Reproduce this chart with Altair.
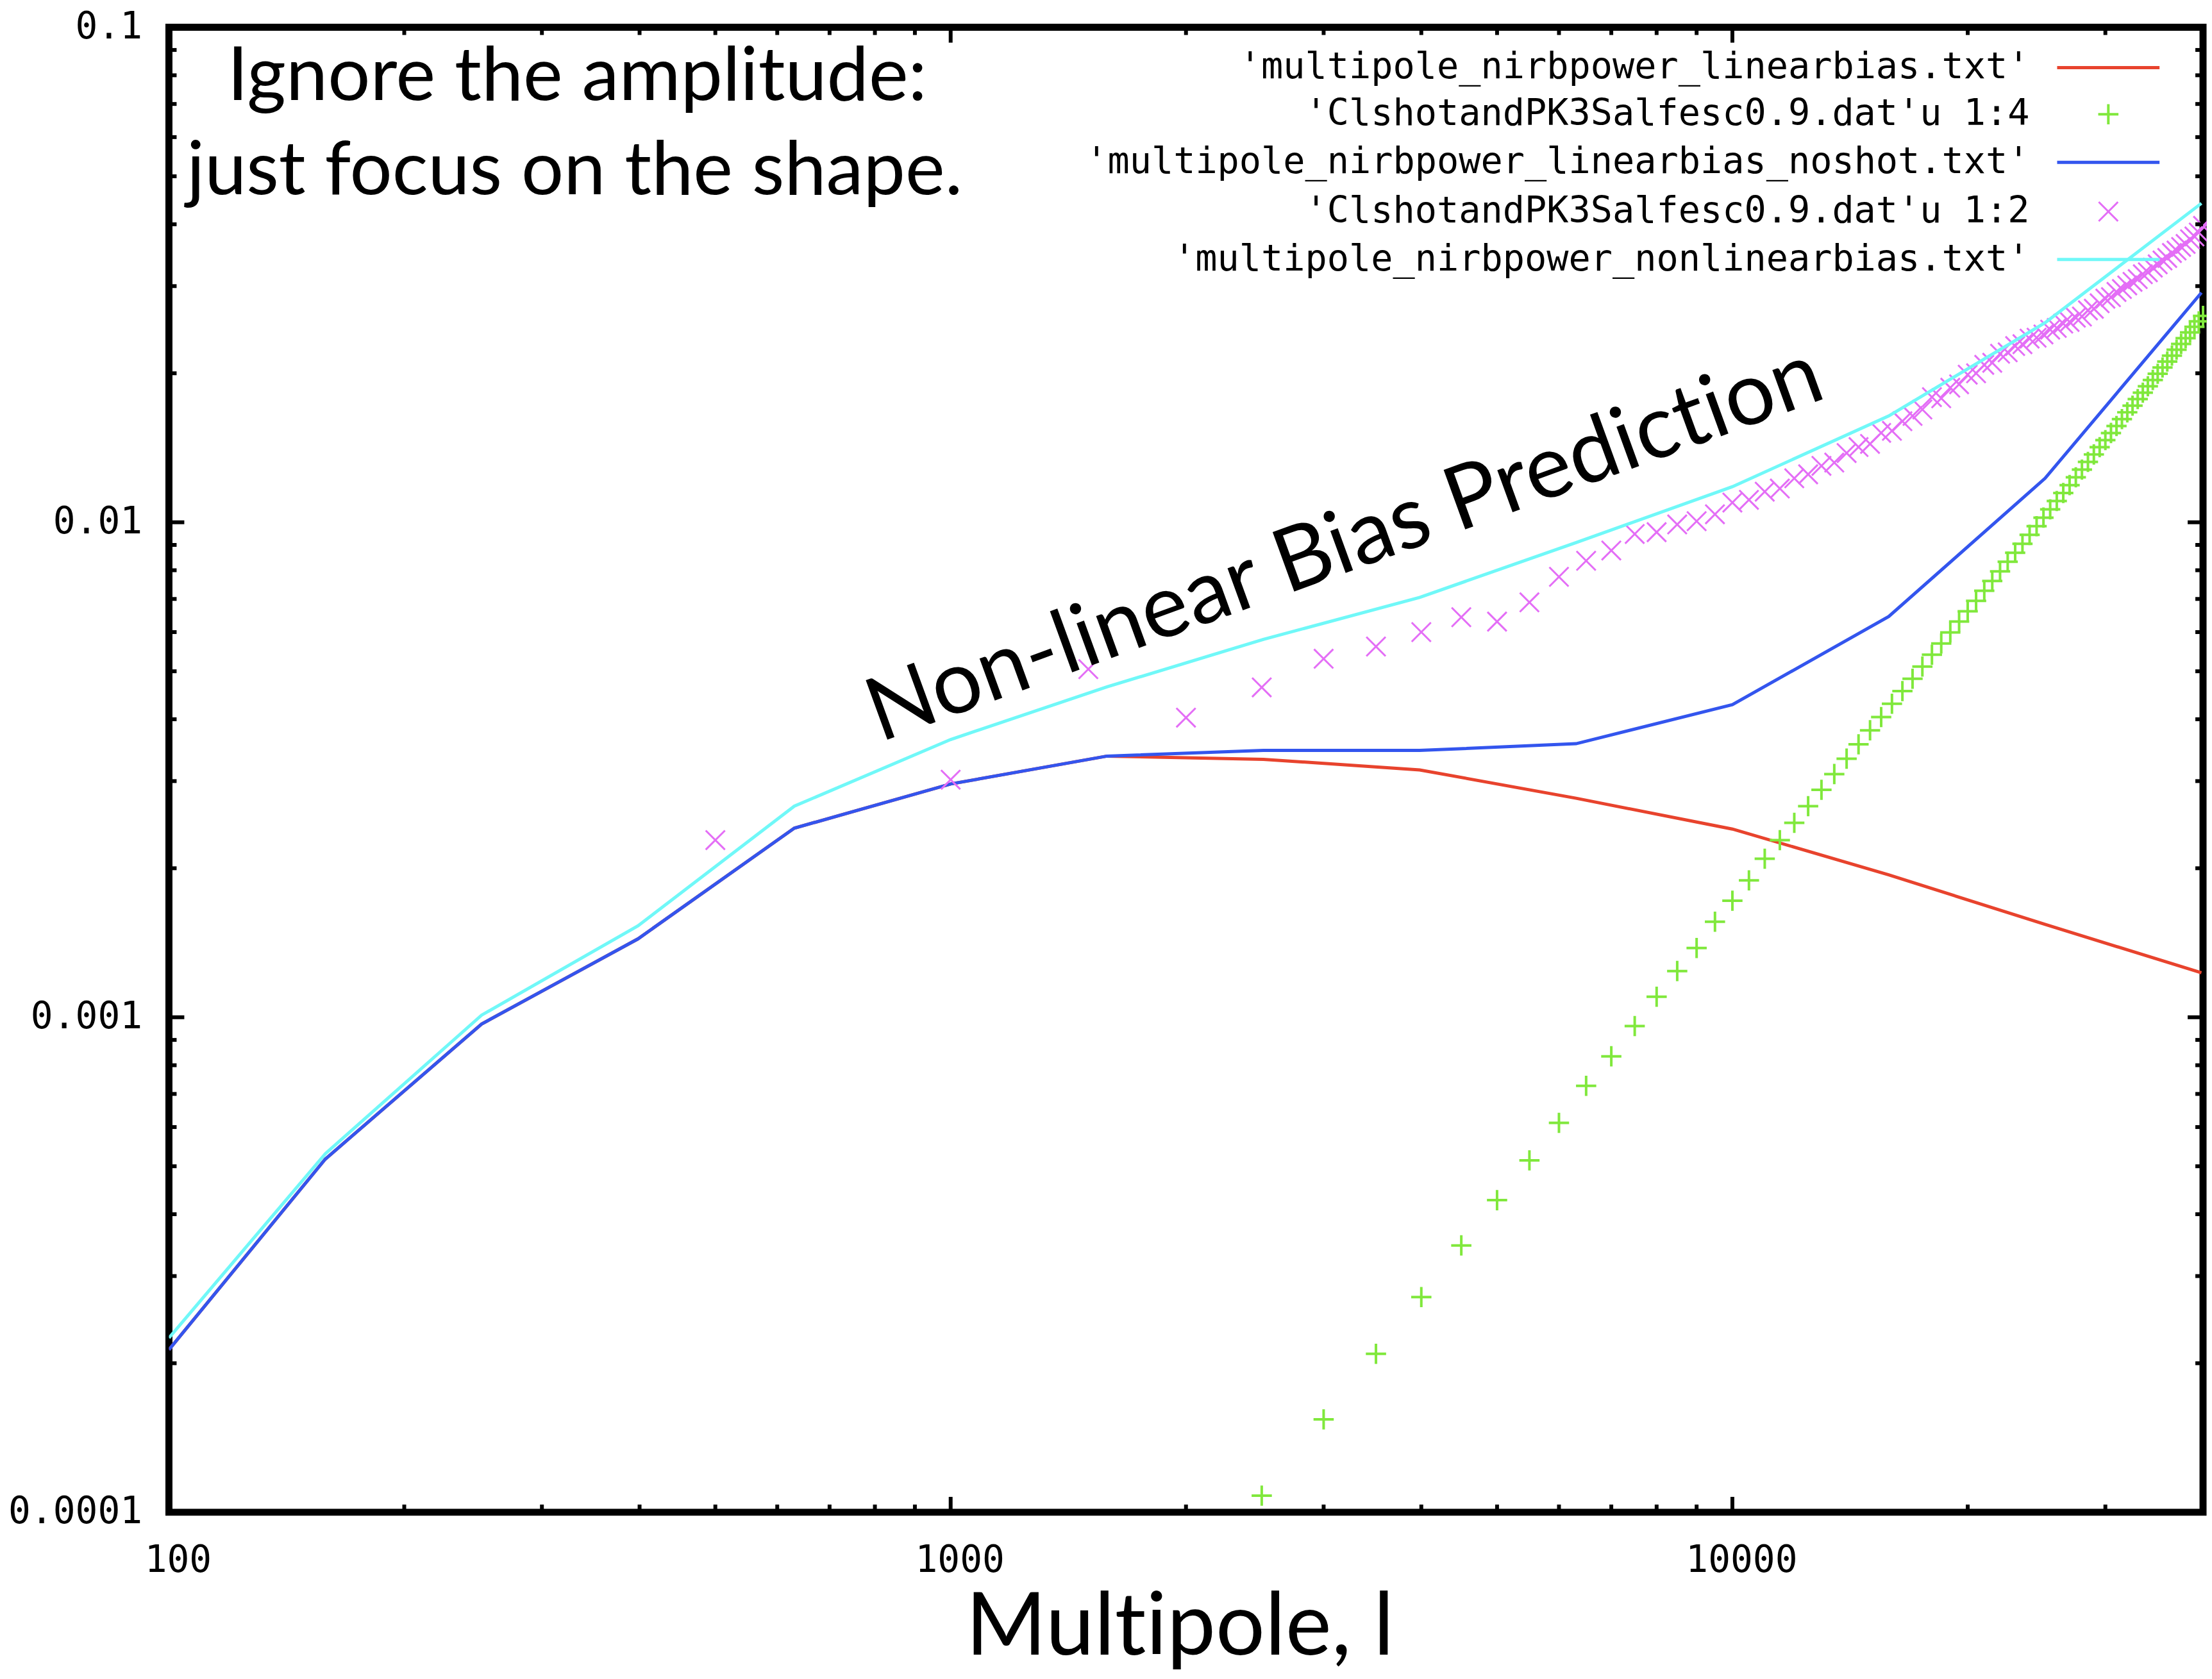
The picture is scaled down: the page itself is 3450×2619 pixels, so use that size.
import altair as alt
import pandas as pd

# ---------------- data ----------------
l_knots = [100, 158.5, 251.2, 398.1, 631.0, 1000, 1584.9, 2511.9, 3981.1,
           6309.6, 10000, 15848.9, 25118.9, 39810.7]
linear_bias = [0.000213, 0.000517, 0.000969, 0.00144, 0.00241, 0.00296, 0.00337,
               0.00332, 0.00316, 0.00277, 0.00240, 0.00194, 0.00154, 0.00123]
linear_bias_noshot = [0.000213, 0.000517, 0.000969, 0.00144, 0.00241, 0.00296, 0.00337,
                      0.00346, 0.00346, 0.00357, 0.00428, 0.00645, 0.01227, 0.0291]
nonlinear_bias = [0.000225, 0.00053, 0.00101, 0.00153, 0.00267, 0.00364, 0.00465,
                  0.00580, 0.00705, 0.0091, 0.0118, 0.0164, 0.0253, 0.0441]

l_cl12 = list(range(500, 40001, 500))
cl_col2 = [0.00228, 0.00302, 0.00505, 0.00403, 0.00464, 0.00530, 0.00561, 0.00600,
           0.00643, 0.00630, 0.00689, 0.00776, 0.00836, 0.00877, 0.00947, 0.00955,
           0.00990, 0.01005, 0.01038, 0.01096, 0.01110, 0.01153, 0.01170, 0.01227,
           0.01250, 0.01300, 0.01320, 0.01380, 0.01419, 0.01440, 0.01516, 0.01530,
           0.01600, 0.01640, 0.01690, 0.01790, 0.01780, 0.01870, 0.01900, 0.01987,
           0.02000, 0.02080, 0.02100, 0.02190, 0.02205, 0.02270, 0.02290, 0.02350,
           0.02360, 0.02396, 0.02450, 0.02470, 0.02520, 0.02540, 0.02590, 0.02604,
           0.02680, 0.02700, 0.02770, 0.02830, 0.02850, 0.02920, 0.02960, 0.03010,
           0.03060, 0.03100, 0.03170, 0.03200, 0.03270, 0.03320, 0.03380, 0.03420,
           0.03500, 0.03540, 0.03600, 0.03650, 0.03730, 0.03780, 0.03850, 0.03970]

l_cl14 = list(range(2500, 40001, 500))
cl_col4 = [0.000108, 0.000154, 0.000209, 0.000272, 0.000346, 0.000427, 0.000514,
           0.000612, 0.000727, 0.000834, 0.000960, 0.00110, 0.00124, 0.00138,
           0.00156, 0.00172, 0.00189, 0.00209, 0.00228, 0.00247, 0.00267, 0.00288,
           0.00310, 0.00333, 0.00356, 0.00380, 0.00404, 0.00430, 0.00456, 0.00483,
           0.00511, 0.00540, 0.00569, 0.00599, 0.00630, 0.00661, 0.00694, 0.00727,
           0.00761, 0.00796, 0.00832, 0.00868, 0.00905, 0.00943, 0.00982, 0.01022,
           0.01062, 0.01104, 0.01146, 0.01189, 0.01233, 0.01278, 0.01324, 0.01371,
           0.01418, 0.01466, 0.01515, 0.01565, 0.01616, 0.01668, 0.01720, 0.01774,
           0.01828, 0.01883, 0.01939, 0.01996, 0.02054, 0.02112, 0.02171, 0.02232,
           0.02293, 0.02355, 0.02418, 0.02482, 0.02546, 0.02612]

x_major = [1000, 10000]
x_minor = [200, 300, 400, 500, 600, 700, 800, 900,
           2000, 3000, 4000, 5000, 6000, 7000, 8000, 9000, 20000, 30000]
y_major = [0.001, 0.01]
y_minor = [m * 1e-4 for m in range(2, 10)] + [m * 1e-3 for m in range(2, 10)] + \
          [m * 1e-2 for m in range(2, 10)]

x_tick_labels = [100, 1000, 10000]
y_tick_labels = [0.0001, 0.001, 0.01, 0.1]

legend_labels = ["'multipole_nirbpower_linearbias.txt'",
                 "'ClshotandPK3Salfesc0.9.dat'u 1:4",
                 "'multipole_nirbpower_linearbias_noshot.txt'",
                 "'ClshotandPK3Salfesc0.9.dat'u 1:2",
                 "'multipole_nirbpower_nonlinearbias.txt'"]

ZWNJ = "\u200c"  # keeps the browser from forming a "ti" ligature
note_lines = ["Ignore the amplitude:", "just focus on the shape."]
curve_label = "Non-linear Bias Predic" + "t" + ZWNJ + "ion"
x_title = "Mult" + ZWNJ + "ipole, l"

RED = "#e8432d"
GREEN = "#80e83c"
BLUE = "#3355ee"
MAGENTA = "#e46ef6"
CYAN = "#70f8f8"

W, H = 3179, 2321
MONO = "DejaVu Sans Mono"
SANS = "Lato"

xs = alt.Scale(type="log", domain=[100, 40000])
ys = alt.Scale(type="log", domain=[1e-4, 0.1])

df_red = pd.DataFrame({"l": l_knots, "v": linear_bias})
df_blue = pd.DataFrame({"l": l_knots, "v": linear_bias_noshot})
df_cyan = pd.DataFrame({"l": l_knots, "v": nonlinear_bias})
df_mag = pd.DataFrame({"l": l_cl12, "v": cl_col2})
df_green = pd.DataFrame({"l": l_cl14, "v": cl_col4})

x_axis = alt.Axis(values=x_tick_labels, format="d", title=None, domain=False,
                  ticks=False, grid=False, labelFont=MONO, labelFontSize=58,
                  labelColor="black", labelPadding=76, labelBaseline="middle",
                  labelOffset=14, labelFlush=False, labelOverlap=False,
                  labelLimit=1000)
y_axis = alt.Axis(values=y_tick_labels, title=None, domain=False,
                  ticks=False, grid=False, labelFont=MONO, labelFontSize=58,
                  labelColor="black", labelPadding=42, labelFlush=False,
                  labelOverlap=False, labelLimit=1000,
                  labelExpr="datum.value < 0.0005 ? '0.0001' : datum.value < 0.005 ? '0.001' : datum.value < 0.05 ? '0.01' : '0.1'")

def X(field):
    return alt.X(field, scale=xs, axis=x_axis)

def Y(field):
    return alt.Y(field, scale=ys, axis=y_axis)

layers = []

# data series (gnuplot drawing order)
red = alt.Chart(df_red).mark_line(color=RED, strokeWidth=5, clip=True).encode(
    x=X("l:Q"), y=Y("v:Q"))
green = alt.Chart(df_green).mark_point(
    shape="M-1,0L1,0M0,-1L0,1", size=1000, filled=False, strokeWidth=4,
    color=GREEN, opacity=1).encode(x=X("l:Q"), y=Y("v:Q"))
blue = alt.Chart(df_blue).mark_line(color=BLUE, strokeWidth=5, clip=True).encode(
    x=X("l:Q"), y=Y("v:Q"))
mag = alt.Chart(df_mag).mark_point(
    shape="M-1,-1L1,1M-1,1L1,-1", size=900, filled=False, strokeWidth=3,
    color=MAGENTA, opacity=1).encode(x=X("l:Q"), y=Y("v:Q"))
cyan = alt.Chart(df_cyan).mark_line(color=CYAN, strokeWidth=5, clip=True).encode(
    x=X("l:Q"), y=Y("v:Q"))
layers += [red, green, blue, mag, cyan]

# inward ticks on all four sides (gnuplot style, mirrored)
def xticks(vals, length):
    d = pd.DataFrame({"t": vals})
    bot = alt.Chart(d).mark_rule(color="black", strokeWidth=6).encode(
        x=X("t:Q"), y=alt.value(H), y2=alt.value(H - length))
    top = alt.Chart(d).mark_rule(color="black", strokeWidth=6).encode(
        x=X("t:Q"), y=alt.value(0), y2=alt.value(length))
    return [bot, top]

def yticks(vals, length):
    d = pd.DataFrame({"t": vals})
    left = alt.Chart(d).mark_rule(color="black", strokeWidth=6).encode(
        y=Y("t:Q"), x=alt.value(0), x2=alt.value(length))
    right = alt.Chart(d).mark_rule(color="black", strokeWidth=6).encode(
        y=Y("t:Q"), x=alt.value(W), x2=alt.value(W - length))
    return [left, right]

layers += xticks(x_major, 24) + xticks(x_minor, 12)
layers += yticks(y_major, 24) + yticks(y_minor, 12)

# legend (gnuplot style: label right-aligned, sample to the right)
one = pd.DataFrame({"a": [0]})
row_y = [63, 136, 211, 288, 363]
sym = ["line", "plus", "line", "cross", "line"]
cols = [RED, GREEN, BLUE, MAGENTA, CYAN]
for lab, ry, s, c in zip(legend_labels, row_y, sym, cols):
    layers.append(alt.Chart(one).mark_text(
        font=MONO, fontSize=57, align="right", baseline="middle", color="black").encode(
        x=alt.value(2908), y=alt.value(ry), text=alt.value(lab)))
    if s == "line":
        layers.append(alt.Chart(one).mark_rule(color=c, strokeWidth=5).encode(
            x=alt.value(2951), x2=alt.value(3111), y=alt.value(ry)))
    else:
        shp = "M-1,0L1,0M0,-1L0,1" if s == "plus" else "M-1,-1L1,1M-1,1L1,-1"
        layers.append(alt.Chart(one).mark_point(
            shape=shp, size=1000 if s == "plus" else 900, filled=False,
            strokeWidth=4 if s == "plus" else 3, color=c, opacity=1).encode(
            x=alt.value(3031), y=alt.value(ry)))

# annotations
layers.append(alt.Chart(one).mark_text(
    font=SANS, fontSize=117, align="center", baseline="alphabetic", color="black").encode(
    x=alt.value(638), y=alt.value(114), text=alt.value(note_lines[0])))
layers.append(alt.Chart(one).mark_text(
    font=SANS, fontSize=117, align="center", baseline="alphabetic", color="black").encode(
    x=alt.value(634), y=alt.value(261), text=alt.value(note_lines[1])))
layers.append(alt.Chart(one).mark_text(
    font=SANS, fontSize=138, align="center", baseline="alphabetic", angle=340,
    color="black").encode(
    x=alt.value(1852), y=alt.value(848), text=alt.value(curve_label)))
layers.append(alt.Chart(one).mark_text(
    font=SANS, fontSize=136, align="center", baseline="alphabetic", color="black").encode(
    x=alt.value(1580), y=alt.value(2544), text=alt.value(x_title)))

chart = alt.layer(*layers).properties(
    width=W, height=H,
    autosize=alt.AutoSizeParams(type="none"),
    padding={"left": 256, "top": 32, "right": 6, "bottom": 258},
    background="white",
).configure_view(stroke="black", strokeWidth=11)

chart.save("out.html", embed_options={"renderer": "svg", "actions": False})
